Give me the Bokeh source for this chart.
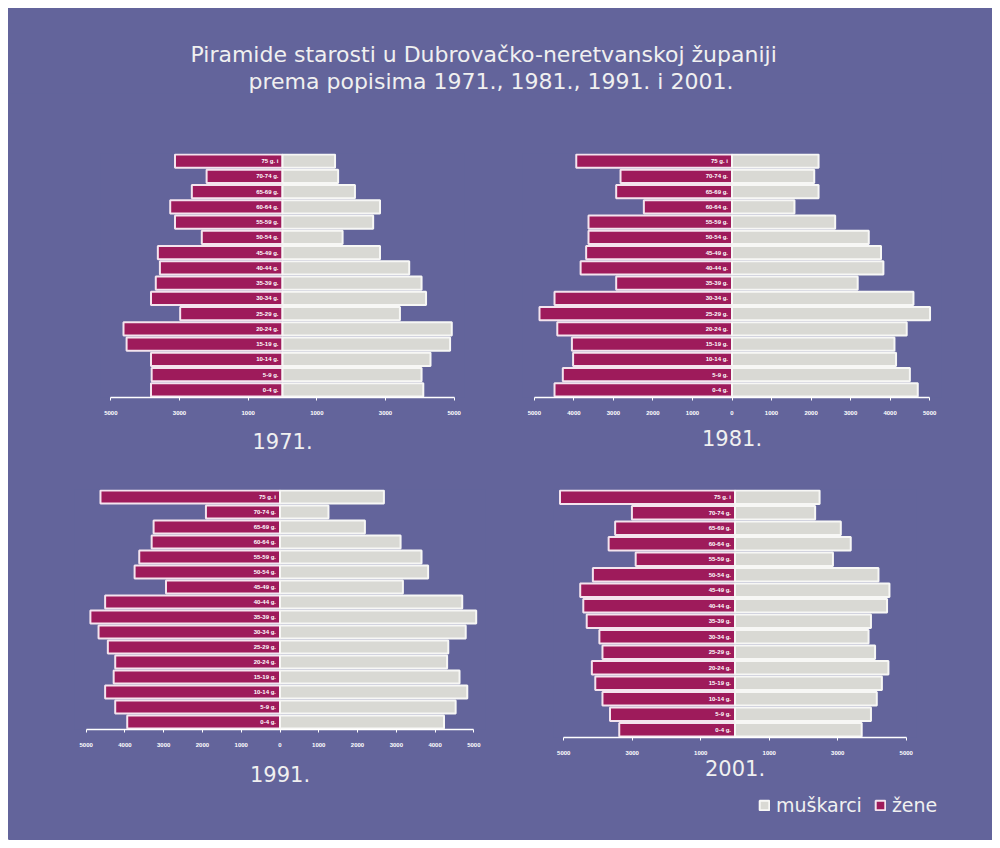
from bokeh.plotting import figure
from bokeh.models import FactorRange, Range1d, FixedTicker, Title, Legend, LegendItem, ColumnDataSource
from bokeh.layouts import column, row
from bokeh.embed import file_html
from bokeh.resources import INLINE
from bokeh.core.properties import value

# ---------------- data ----------------
title_line1 = "Piramide starosti u Dubrovačko-neretvanskoj županiji"
title_line2 = "prema popisima 1971., 1981., 1991. i 2001."

ages = ["75 g. i", "70-74 g.", "65-69 g.", "60-64 g.", "55-59 g.", "50-54 g.",
        "45-49 g.", "40-44 g.", "35-39 g.", "30-34 g.", "25-29 g.", "20-24 g.",
        "15-19 g.", "10-14 g.", "5-9 g.", "0-4 g."]

years = ["1971", "1981", "1991", "2001"]

zene_1971 = [3130, 2210, 2640, 3270, 3130, 2350, 3630, 3570, 3690, 3830, 2980, 4630, 4540, 3830, 3810, 3830]
muskarci_1971 = [1530, 1620, 2110, 2840, 2640, 1750, 2840, 3690, 4050, 4180, 3420, 4930, 4880, 4310, 4050, 4100]
zene_1981 = [3940, 2820, 2930, 2230, 3630, 3630, 3690, 3830, 2930, 4490, 4870, 4420, 4050, 4020, 4280, 4490]
muskarci_1981 = [2190, 2080, 2190, 1580, 2610, 3460, 3770, 3830, 3180, 4590, 5010, 4420, 4110, 4150, 4500, 4700]
zene_1991 = [4630, 1910, 3260, 3310, 3630, 3750, 2940, 4510, 4890, 4680, 4440, 4250, 4290, 4510, 4250, 3940]
muskarci_1991 = [2680, 1250, 2190, 3110, 3650, 3820, 3170, 4700, 5060, 4790, 4340, 4310, 4630, 4830, 4530, 4230]
zene_2001 = [5110, 3010, 3500, 3690, 2900, 4150, 4520, 4430, 4330, 3960, 3870, 4180, 4080, 3870, 3650, 3380]
muskarci_2001 = [2470, 2340, 3090, 3380, 2860, 4190, 4510, 4440, 3970, 3900, 4090, 4480, 4290, 4140, 3970, 3700]

ticks_fine = [-5000, -4000, -3000, -2000, -1000, 0, 1000, 2000, 3000, 4000, 5000]
ticks_coarse = [-5000, -3000, -1000, 1000, 3000, 5000]

legend_labels = ["muškarci", "žene"]

# ---------------- style ----------------
BG = "#63649b"
F_FILL = "#9e1b5b"
F_LINE = "#f4e4ee"
M_FILL = "#d9d9d4"
M_LINE = "#f7f7f5"
TXT = "#f0f0f0"
FONT = "Liberation Sans"
WIDE = "DejaVu Sans"
R = 5300


def make_panel(year, zene, musk, ticks, fig_left, fig_top, fig_w, fig_h,
               center_x, px_per_k, frame_top, frame_h, label_standoff):
    half = R / 1000.0 * px_per_k
    fl = int(round(center_x - half - fig_left))
    fw = int(round(2 * half))
    fr = fig_w - fl - fw
    bt = frame_top - fig_top
    bb = fig_top + fig_h - (frame_top + frame_h)
    p = figure(frame_width=fw, frame_height=frame_h,
               min_border_left=fl, min_border_right=fr,
               min_border_top=bt, min_border_bottom=bb,
               x_range=Range1d(-R, R), y_range=FactorRange(*ages[::-1]),
               y_axis_location=None, toolbar_location=None, output_backend="svg",
               background_fill_color=BG, background_fill_alpha=0,
               border_fill_color=BG, outline_line_color=None)
    p.grid.visible = False
    src = ColumnDataSource(dict(age=ages, f=[-v for v in zene], m=musk, zero=[0] * len(ages)))
    p.hbar(y="age", left="f", right="zero", height=0.88, source=src,
           fill_color=F_FILL, line_color=F_LINE, line_width=2)
    p.hbar(y="age", left="zero", right="m", height=0.88, source=src,
           fill_color=M_FILL, line_color=M_LINE, line_width=2)
    p.text(x="zero", y="age", text="age", source=src, x_offset=-4,
           text_align="right", text_baseline="middle", text_font_size="6px",
           text_font_style="bold", text_color="white", text_font=value(FONT))
    ax = p.xaxis[0]
    ax.ticker = FixedTicker(ticks=ticks)
    ax.bounds = (-5000, 5000)
    ax.major_label_overrides = {t: str(abs(t)) for t in ticks}
    ax.axis_line_color = "white"
    ax.axis_line_width = 1.5
    ax.major_tick_line_color = "white"
    ax.major_tick_out = 3
    ax.major_tick_in = 0
    ax.minor_tick_line_color = None
    ax.major_label_text_color = "white"
    ax.major_label_text_font_size = "6px"
    ax.major_label_text_font_style = "bold"
    ax.major_label_text_font = FONT
    ax.major_label_standoff = 10
    ax.axis_label = year + "."
    ax.axis_label_text_font_size = "21px"
    ax.axis_label_text_font_style = "normal"
    ax.axis_label_text_color = TXT
    ax.axis_label_text_font = WIDE
    ax.axis_label_standoff = label_standoff
    return p


# title strip
t = figure(width=984, height=132, toolbar_location=None, output_backend="svg",
           background_fill_color=BG, background_fill_alpha=0,
           border_fill_color=BG, outline_line_color=None,
           x_axis_location=None, y_axis_location=None, min_border_left=0,
           min_border_right=0, min_border_bottom=0, min_border_top=85)
t.grid.visible = False
for line, off in [(title_line2, 240), (title_line1, 182)]:
    t.add_layout(Title(text=line, align="left", text_font_size="22px",
                       text_color=TXT, text_font=WIDE, text_font_style="normal",
                       standoff=0, offset=off), "above")

p71 = make_panel(years[0], zene_1971, muskarci_1971, ticks_coarse,
                 8, 140, 492, 330, 281.7, 34.3, 153, 244, 15)
p81 = make_panel(years[1], zene_1981, muskarci_1981, ticks_fine,
                 500, 140, 492, 330, 731.7, 39.5, 153, 244, 12)
p91 = make_panel(years[2], zene_1991, muskarci_1991, ticks_fine,
                 8, 470, 492, 322, 280.0, 38.8, 489, 240, 16)
p01 = make_panel(years[3], zene_2001, muskarci_2001, ticks_coarse,
                 500, 470, 492, 322, 734.0, 34.2, 485, 248, 2)

# legend strip (legend proxies lie outside the visible range)
s = figure(width=984, height=48, toolbar_location=None, output_backend="svg",
           background_fill_color=BG, background_fill_alpha=0,
           border_fill_color=BG, outline_line_color=None,
           x_axis_location=None, y_axis_location=None,
           min_border_left=0, min_border_right=0, min_border_top=0, min_border_bottom=0,
           x_range=Range1d(0, 1), y_range=Range1d(0, 1))
s.grid.visible = False
proxy = ColumnDataSource(dict(y=[-5], left=[-5], right=[-5]))
lm = s.hbar(y="y", left="left", right="right", height=0.1, source=proxy,
            fill_color=M_FILL, line_color=M_LINE, line_width=2)
lf = s.hbar(y="y", left="left", right="right", height=0.1, source=proxy,
            fill_color=F_FILL, line_color=F_LINE, line_width=2)
legend = Legend(items=[LegendItem(label=legend_labels[0], renderers=[lm]),
                       LegendItem(label=legend_labels[1], renderers=[lf])],
                location=(750, 24), orientation="horizontal",
                background_fill_alpha=0, border_line_alpha=0,
                label_text_color=TXT, label_text_font_size="19px",
                label_text_font=WIDE, glyph_width=12, glyph_height=12,
                label_standoff=6, spacing=12, padding=0, margin=0)
s.add_layout(legend)

layout = column(t, row(p71, p81), row(p91, p01), s, margin=(8, 8, 8, 8),
                styles={"background-color": BG})

open("out.html", "w").write(file_html(layout, INLINE))
